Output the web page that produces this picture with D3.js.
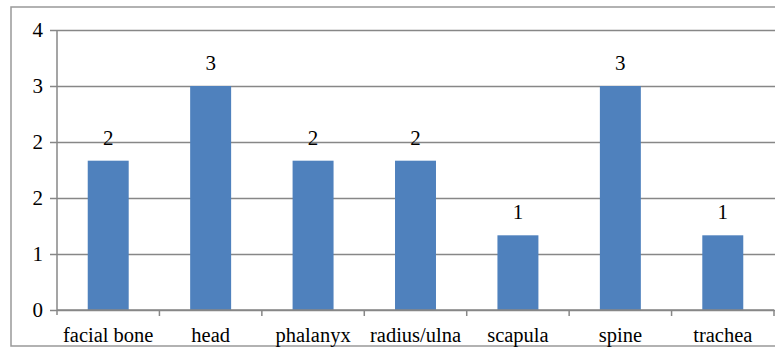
<!DOCTYPE html>
<html>
<head>
<meta charset="utf-8">
<script src="https://cdn.jsdelivr.net/npm/d3@7"></script>
<style>
  html, body { margin: 0; padding: 0; background: #fff; }
  svg { display: block; }
</style>
</head>
<body>
<svg id="chart" width="775" height="347"></svg>
<script>
// Bones affected, count per site
const categories = ["facial bone", "head", "phalanyx", "radius/ulna", "scapula", "spine", "trachea"];
const values = [2.133, 3.2, 2.133, 2.133, 1.067, 3.2, 1.067];
const yTicks = [0, 0.8, 1.6, 2.4, 3.2, 4.0];

const W = 775, H = 347;
const plot = { left: 57, right: 774, top: 30, bottom: 310 };
const gridColor = "#878787";
const barColor = "#4F81BD";
const serif = "'Liberation Serif', 'Times New Roman', Times, 'DejaVu Serif', serif";
const fmt = d3.format(".0f");

const svg = d3.select("#chart").attr("font-family", serif);

// outer chart frame
svg.append("rect")
  .attr("x", 11).attr("y", 7)
  .attr("width", W + 10).attr("height", 339)
  .attr("fill", "none").attr("stroke", "#999").attr("stroke-width", 1.5);

const x = d3.scaleBand()
  .domain(categories)
  .range([plot.left, plot.right])
  .paddingInner(0.6)
  .paddingOuter(0.3);

const y = d3.scaleLinear()
  .domain([0, 4])
  .range([plot.bottom, plot.top]);

// horizontal gridlines + y axis
const yAxis = d3.axisLeft(y)
  .tickValues(yTicks)
  .tickFormat(fmt)
  .tickSize(-(plot.right - plot.left + 1))
  .tickPadding(14);

const gy = svg.append("g")
  .attr("transform", `translate(${plot.left},0)`)
  .call(yAxis)
  .attr("font-family", serif)
  .attr("font-size", 21);
gy.select(".domain").remove();
gy.selectAll(".tick line")
  .attr("x1", -7)
  .attr("stroke", gridColor).attr("stroke-width", 1.5);
gy.selectAll(".tick text")
  .attr("fill", "#000");

// vertical axis line
svg.append("line")
  .attr("x1", plot.left).attr("x2", plot.left)
  .attr("y1", plot.top).attr("y2", plot.bottom + 5)
  .attr("stroke", gridColor).attr("stroke-width", 1.5);

// bars
svg.append("g").selectAll("rect")
  .data(categories)
  .join("rect")
  .attr("x", d => x(d))
  .attr("width", x.bandwidth())
  .attr("y", (d, i) => y(values[i]))
  .attr("height", (d, i) => y(0) - y(values[i]))
  .attr("fill", barColor);

// value labels
svg.append("g").selectAll("text")
  .data(categories)
  .join("text")
  .attr("x", d => x(d) + x.bandwidth() / 2)
  .attr("y", (d, i) => y(values[i]) - 16)
  .attr("text-anchor", "middle")
  .attr("font-family", serif)
  .attr("font-size", 21)
  .text((d, i) => fmt(values[i]));

// x axis with category boundary ticks
const step = x.step();
const boundaries = d3.range(categories.length + 1).map(i => plot.left + i * step);

svg.append("line")
  .attr("x1", plot.left).attr("x2", plot.right)
  .attr("y1", plot.bottom).attr("y2", plot.bottom)
  .attr("stroke", gridColor).attr("stroke-width", 1.5);

svg.append("g").selectAll("line")
  .data(boundaries.slice(1))
  .join("line")
  .attr("x1", d => d).attr("x2", d => d)
  .attr("y1", plot.bottom).attr("y2", plot.bottom + 6)
  .attr("stroke", gridColor).attr("stroke-width", 1.5);

svg.append("g").selectAll("text")
  .data(categories)
  .join("text")
  .attr("x", d => x(d) + x.bandwidth() / 2)
  .attr("y", 342)
  .attr("text-anchor", "middle")
  .attr("font-family", serif)
  .attr("font-size", 20.5)
  .text(d => d);
</script>
</body>
</html>
